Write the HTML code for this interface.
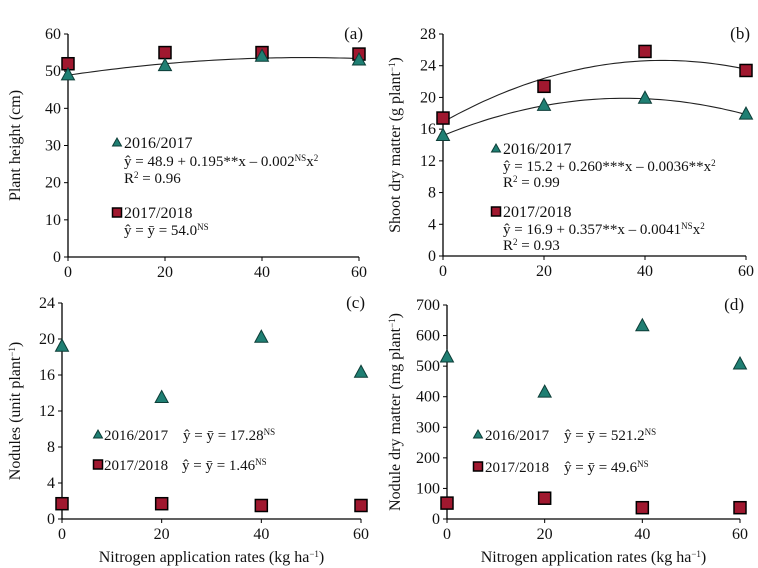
<!DOCTYPE html>
<html><head><meta charset="utf-8"><style>
body{margin:0;background:#fff}
svg{display:block}
svg text{font-family:"Liberation Serif","Times New Roman",serif}
</style></head><body>
<svg id="c" width="758" height="568"></svg>
<script>
const xCats=[0,20,40,60];
const aTri=[49,51.5,54,53];
const aSq=[52,55,55,54.6];
const aCoef=[48.9,0.195,-0.002];
const bTri=[15.2,19,19.9,17.9];
const bSq=[17.4,21.4,25.8,23.4];
const bCoefTri=[15.2,0.26,-0.0036];
const bCoefSq=[16.9,0.357,-0.0041];
const cTri=[19.2,13.5,20.2,16.3];
const cSq=[1.7,1.7,1.5,1.5];
const dTri=[530,415,632,507];
const dSq=[52,68,37,37];
const aTicks=[0,10,20,30,40,50,60];
const bTicks=[0,4,8,12,16,20,24,28];
const cTicks=[0,4,8,12,16,20,24];
const dTicks=[0,100,200,300,400,500,600,700];

const NS="http://www.w3.org/2000/svg";
const svg=document.getElementById('c');
function el(t,a,p){const e=document.createElementNS(NS,t);for(const k in a)e.setAttribute(k,a[k]);(p||svg).appendChild(e);return e;}
function txt(x,y,s,a,p){const e=el('text',Object.assign({x:x,y:y,'font-size':15,fill:'#111'},a||{}),p);e.innerHTML=s;return e;}
const sup=s=>'<tspan baseline-shift="super" font-size="9">'+s+'</tspan>';

function panel(id,P){
  const g=el('g',{});
  
  
  const X=v=>P.x0+(v-0)/60*(P.x1-P.x0);
  const Y=v=>P.y0-(v/P.ymax)*(P.y0-P.y1);
  const ax=el('path',{d:`M${P.x0} ${P.y1}V${P.y0}H${X(60)}`,stroke:'#000','stroke-width':1.3,fill:'none'},g);
  
  
  P.ticks.forEach(t=>{
    el('line',{x1:P.x0-4,x2:P.x0,y1:Y(t),y2:Y(t),stroke:'#000'},g);
    const l=txt(P.x0-7,Y(t)+5,t,{'text-anchor':'end','font-size':16},g);
    
    
  });
  xCats.forEach(c=>{
    el('line',{x1:X(c),x2:X(c),y1:P.y0,y2:P.y0+4,stroke:'#000'},g);
    const l=txt(X(c),P.y0+20,c,{'text-anchor':'middle','font-size':16},g);
    
    
  });
  const yt=txt(0,0,P.ytitle,{'text-anchor':'middle','font-size':16,transform:`translate(${P.ytx},${(P.y0+P.y1)/2}) rotate(-90)`},g);
  
  
  const pl=txt(X(60)+4,P.y1+5,'('+id+')',{'text-anchor':'end','font-size':17},g);
  
  
  if(P.xtitle){const xt=txt((P.x0+X(60))/2,P.y0+43,'Nitrogen application rates (kg ha'+sup('−1')+')',{'text-anchor':'middle','font-size':16},g);
    
    }
  (P.curves||[]).forEach(cf=>{
    let d='';for(let v=0;v<=60;v+=1){const y=cf[0]+cf[1]*v+cf[2]*v*v;d+=(v?'L':'M')+X(v).toFixed(1)+' '+Y(y).toFixed(1);}
    const c=el('path',{d:d,stroke:'#222','stroke-width':1.1,fill:'none'},g);
    
    
  });
  P.sq.forEach((v,i)=>{
    const r=el('rect',{x:X(xCats[i])-6,y:Y(v)-6,width:12,height:12,fill:'#a0182f',stroke:'#000','stroke-width':1.5},g);
    
    
  });
  P.tri.forEach((v,i)=>{
    const x=X(xCats[i]),y=Y(v);
    const t=el('path',{d:`M${x} ${y-7}L${x+6.5} ${y+5}L${x-6.5} ${y+5}Z`,fill:'#1f7f73',stroke:'#0d3d37','stroke-width':1},g);
    
    
  });
  const lg=el('g',{},g);
  
  
  P.legend.forEach(L=>{
    if(L.m==='t') el('path',{d:`M${L.x} ${L.y-10}L${L.x+4.5} ${L.y-2}L${L.x-4.5} ${L.y-2}Z`,fill:'#1f7f73',stroke:'#0d3d37'},lg);
    if(L.m==='s') el('rect',{x:L.x-4.5,y:L.y-10,width:9,height:9,fill:'#a0182f',stroke:'#000','stroke-width':1.5},lg);
    txt(L.tx,L.y,L.s,{'font-size':L.fs||15},lg);
  });
}
panel('a',{x0:68,x1:359,y0:257,y1:34,ymax:60,ticks:aTicks,tri:aTri,sq:aSq,curves:[aCoef],ytx:20,ytitle:'Plant height (cm)',
 legend:[{m:'t',x:117,y:148,tx:124,s:'2016/2017',fs:16},{x:0,y:166,tx:124,s:'ŷ = 48.9 + 0.195**x – 0.002'+sup('NS')+'x'+sup('2')},{x:0,y:183,tx:124,s:'R'+sup('2')+' = 0.96'},
  {m:'s',x:117,y:218,tx:124,s:'2017/2018',fs:16},{x:0,y:235,tx:124,s:'ŷ = ȳ = 54.0'+sup('NS')}]});
panel('b',{x0:443,x1:746,y0:256,y1:34,ymax:28,ticks:bTicks,tri:bTri,sq:bSq,curves:[bCoefTri,bCoefSq],ytx:400,ytitle:'Shoot dry matter (g plant'+sup('−1')+')',
 legend:[{m:'t',x:496,y:154,tx:503,s:'2016/2017',fs:16},{x:0,y:171,tx:503,s:'ŷ = 15.2 + 0.260***x – 0.0036**x'+sup('2')},{x:0,y:187,tx:503,s:'R'+sup('2')+' = 0.99'},
  {m:'s',x:496,y:217,tx:503,s:'2017/2018',fs:16},{x:0,y:234,tx:503,s:'ŷ = 16.9 + 0.357**x – 0.0041'+sup('NS')+'x'+sup('2')},{x:0,y:250,tx:503,s:'R'+sup('2')+' = 0.93'}]});
panel('c',{x0:62,x1:361,y0:519,y1:303,ymax:24,ticks:cTicks,tri:cTri,sq:cSq,ytx:20,xtitle:1,ytitle:'Nodules (unit plant'+sup('−1')+')',
 legend:[{m:'t',x:98,y:440,tx:104,s:'2016/2017'},{x:0,y:440,tx:183,s:'ŷ = ȳ = 17.28'+sup('NS')},
  {m:'s',x:98,y:470,tx:104,s:'2017/2018'},{x:0,y:470,tx:182,s:'ŷ = ȳ = 1.46'+sup('NS')}]});
panel('d',{x0:447,x1:740,y0:519,y1:305,ymax:700,ticks:dTicks,tri:dTri,sq:dSq,ytx:400,xtitle:1,ytitle:'Nodule dry matter (mg plant'+sup('−1')+')',
 legend:[{m:'t',x:478,y:440,tx:485,s:'2016/2017'},{x:0,y:440,tx:564,s:'ŷ = ȳ = 521.2'+sup('NS')},
  {m:'s',x:478,y:472,tx:485,s:'2017/2018'},{x:0,y:472,tx:564,s:'ŷ = ȳ = 49.6'+sup('NS')}]});
</script>
</body></html>
